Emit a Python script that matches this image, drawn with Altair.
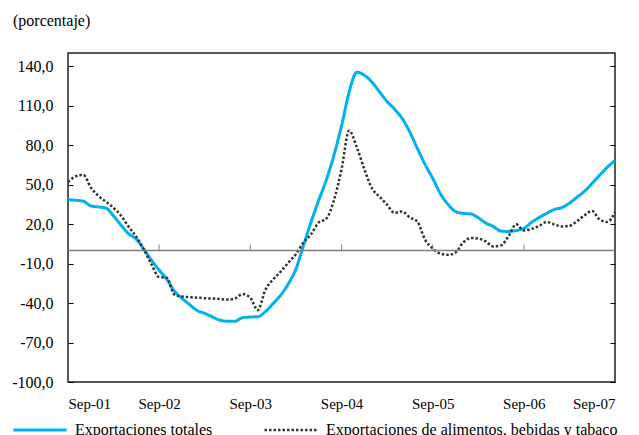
import altair as alt
import pandas as pd

# Monthly dates Sep-01 .. Sep-07
months = pd.date_range("2001-09-01", "2007-09-01", freq="MS").strftime("%Y-%m-%dT00:00:00").tolist()
year_ticks = [m for m in months if m[5:7] == "09"]
inner_ticks = year_ticks[1:-1]
y_ticks = [-100, -70, -40, -10, 20, 50, 80, 110, 140]

serie_1 = "Exportaciones totales"
serie_2 = "Exportaciones de alimentos, bebidas y tabaco"
series = [serie_1, serie_2]

totales = [38.5, 38.1, 37.4, 33.8, 33.0, 32.1, 26.5, 19.3, 12.8, 8.6,
           1.0, -7.3, -15.0, -21.8, -30.9, -36.3, -41.2, -45.8, -47.7, -50.4,
           -52.9, -53.8, -53.8, -51.1, -50.6, -50.4, -46.5, -40.5, -34.0, -25.2,
           -14.6, 3.5, 21.2, 38.0, 53.2, 72.2, 95.0, 120.2, 135.4, 133.1,
           127.8, 120.2, 113.4, 107.3, 100.4, 90.0, 77.6, 65.4, 54.7, 43.3,
           35.0, 29.6, 28.1, 27.7, 25.0, 20.8, 18.2, 14.7, 14.4, 15.1,
           16.7, 21.2, 25.0, 28.1, 31.1, 32.6, 35.7, 40.3, 44.8, 50.9,
           57.0, 63.1, 68.4]

alimentos = [51.9, 56.2, 57.4, 47.9, 41.4, 36.8, 32.6, 26.5, 18.2, 10.6,
             1.0, -10.4, -20.3, -20.7, -33.6, -35.1, -35.5, -35.9, -36.3, -36.6,
             -36.9, -37.4, -36.6, -33.2, -35.9, -45.4, -29.8, -22.2, -16.1, -9.2,
             -3.1, 6.0, 12.1, 21.2, 23.9, 38.0, 62.0, 91.0, 78.3, 61.6,
             47.1, 40.6, 34.9, 28.5, 29.6, 25.0, 22.0, 8.3, 1.4, -2.4,
             -3.4, -1.6, 6.0, 9.4, 9.1, 6.8, 3.0, 3.8, 10.6, 19.8,
             15.1, 16.3, 18.6, 21.6, 19.7, 18.2, 18.6, 22.0, 26.6, 30.0,
             23.5, 21.6, 29.2]

df = pd.DataFrame({
    "fecha": months + months,
    "valor": totales + alimentos,
    "serie": [serie_1] * len(months) + [serie_2] * len(months),
})
zero_df = pd.DataFrame({"cero": [0]})
ticks_df = pd.DataFrame({"fecha": inner_ticks, "cero": [0] * len(inner_ticks)})

FONT = "Liberation Serif"
y_scale = alt.Scale(domain=[-100, 150], nice=False, zero=False)
x_scale = alt.Scale(domain=[months[0], months[-1]])

label_expr = "(datum.value < 0 ? '-' : '') + replace(format(abs(datum.value), '.1f'), '.', ',')"

leg = alt.Legend(
    title=None, orient="none", direction="horizontal", legendX=-56, legendY=349,
    symbolType="stroke", symbolSize=2809, labelFont=FONT, labelFontSize=16,
    labelColor="black", labelOffset=7, columnPadding=46, padding=0, labelLimit=400,
)

lines = alt.Chart(df).mark_line(interpolate="monotone", strokeCap="butt").encode(
    x=alt.X("fecha:T", scale=x_scale,
            axis=alt.Axis(values=year_ticks, format="%b-%y", title=None, ticks=False,
                          domain=False, grid=False, labelPadding=14,
                          labelFont=FONT, labelFontSize=15, labelColor="black")),
    y=alt.Y("valor:Q", scale=y_scale,
            axis=alt.Axis(orient="left", values=y_ticks, offset=-5, tickSize=5,
                          labelPadding=15, domain=False, grid=False, title=None,
                          labelExpr=label_expr, tickColor="black",
                          labelFont=FONT, labelFontSize=16, labelColor="black")),
    color=alt.Color("serie:N", scale=alt.Scale(domain=series, range=["#00B0F0", "#333333"]), legend=leg),
    strokeDash=alt.StrokeDash("serie:N", scale=alt.Scale(domain=series, range=[[1, 0], [2.5, 2]]), legend=leg),
    strokeWidth=alt.StrokeWidth("serie:N", scale=alt.Scale(domain=series, range=[3, 2.5]), legend=leg),
)

zero_rule = alt.Chart(zero_df).mark_rule(color="#7f7f7f", strokeWidth=1.5).encode(
    y=alt.Y("cero:Q", scale=y_scale,
            axis=alt.Axis(orient="right", values=y_ticks, offset=-5, tickSize=5,
                          labels=False, domain=False, grid=False, title=None, tickColor="black")),
)

x_ticks = alt.Chart(ticks_df).mark_tick(orient="vertical", size=6, thickness=1, yOffset=-3,
                                        color="#555555").encode(
    x=alt.X("fecha:T", scale=x_scale),
    y=alt.Y("cero:Q", scale=y_scale, axis=None),
)

chart = alt.layer(lines, zero_rule, x_ticks).resolve_axis(y="independent").properties(
    width=547, height=329,
    autosize=alt.AutoSizeParams(type="none"),
    padding={"left": 60, "top": 45, "right": 16, "bottom": 60},
    title=alt.TitleParams("(porcentaje)", anchor="start", dx=-55, offset=24, font=FONT,
                          fontSize=16, fontWeight="normal", color="black", frame="group"),
).configure_view(stroke="#222222", strokeWidth=1.5)

chart.save("out.html", embed_options={"renderer": "svg", "actions": False})
